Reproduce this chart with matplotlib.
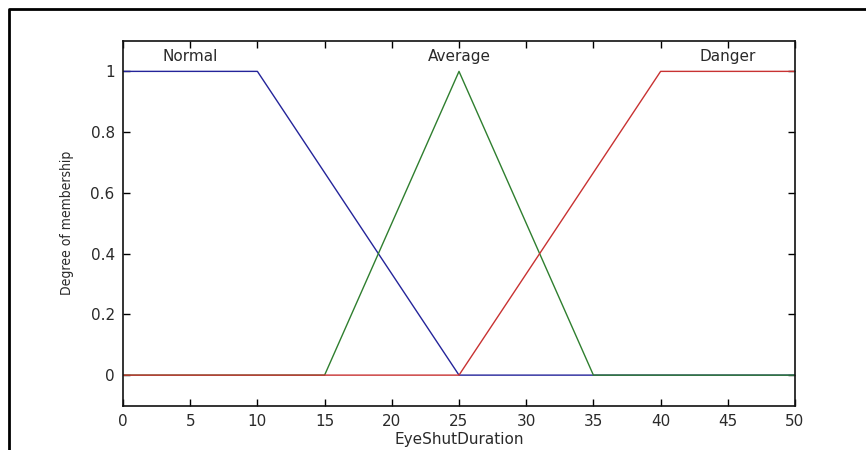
import matplotlib.pyplot as plt
from matplotlib.lines import Line2D

# membership functions (breakpoints)
normal_x = [0, 10, 25, 50]
normal_y = [1, 1, 0, 0]
average_x = [0, 15, 25, 35, 50]
average_y = [0, 0, 1, 0, 0]
danger_x = [0, 25, 40, 50]
danger_y = [0, 0, 1, 1]

labels = ["Normal", "Average", "Danger"]
label_x = [5, 25, 45]

xticks = list(range(0, 51, 5))
yticks = [0, 0.2, 0.4, 0.6, 0.8, 1]

plt.rcParams['font.family'] = ['DejaVu Sans']
txt = '#2a2a2a'

fig = plt.figure(figsize=(8.66, 4.5), dpi=100)
ax = fig.add_axes([123 / 866, 44.5 / 450, 672 / 866, 364.5 / 450])

ax.plot(normal_x, normal_y, color='#24249a', lw=1)
ax.plot(average_x, average_y, color='#2f7f2f', lw=1)
ax.plot(danger_x, danger_y, color='#c83232', lw=1)

for name, xx in zip(labels, label_x):
    ax.text(xx, 1.05, name, ha='center', va='center', fontsize=11, color=txt)

ax.set_xlim(0, 50)
ax.set_ylim(-0.1, 1.1)
ax.set_xticks(xticks)
ax.set_yticks(yticks)
ax.set_yticklabels(['0', '0.2', '0.4', '0.6', '0.8', '1'])
ax.tick_params(direction='in', top=True, right=True, length=5, width=1,
               labelsize=11, labelcolor=txt, pad=6)
for s in ax.spines.values():
    s.set_linewidth(1.2)
    s.set_color('#111111')

ax.set_xlabel("EyeShutDuration", fontsize=11, color=txt, labelpad=2)
ax.set_ylabel("Degree of membership", fontsize=10, color=txt, labelpad=12,
              family='DejaVu Sans', fontstretch='condensed')

# outer frame (left and top edges only)
fx = 8.5 / 866
fy = 1 - 8.5 / 450
fig.add_artist(Line2D([fx, fx, 1], [0, fy, fy], transform=fig.transFigure,
                      color='black', lw=2))

fig.savefig('out.png', dpi=100)
